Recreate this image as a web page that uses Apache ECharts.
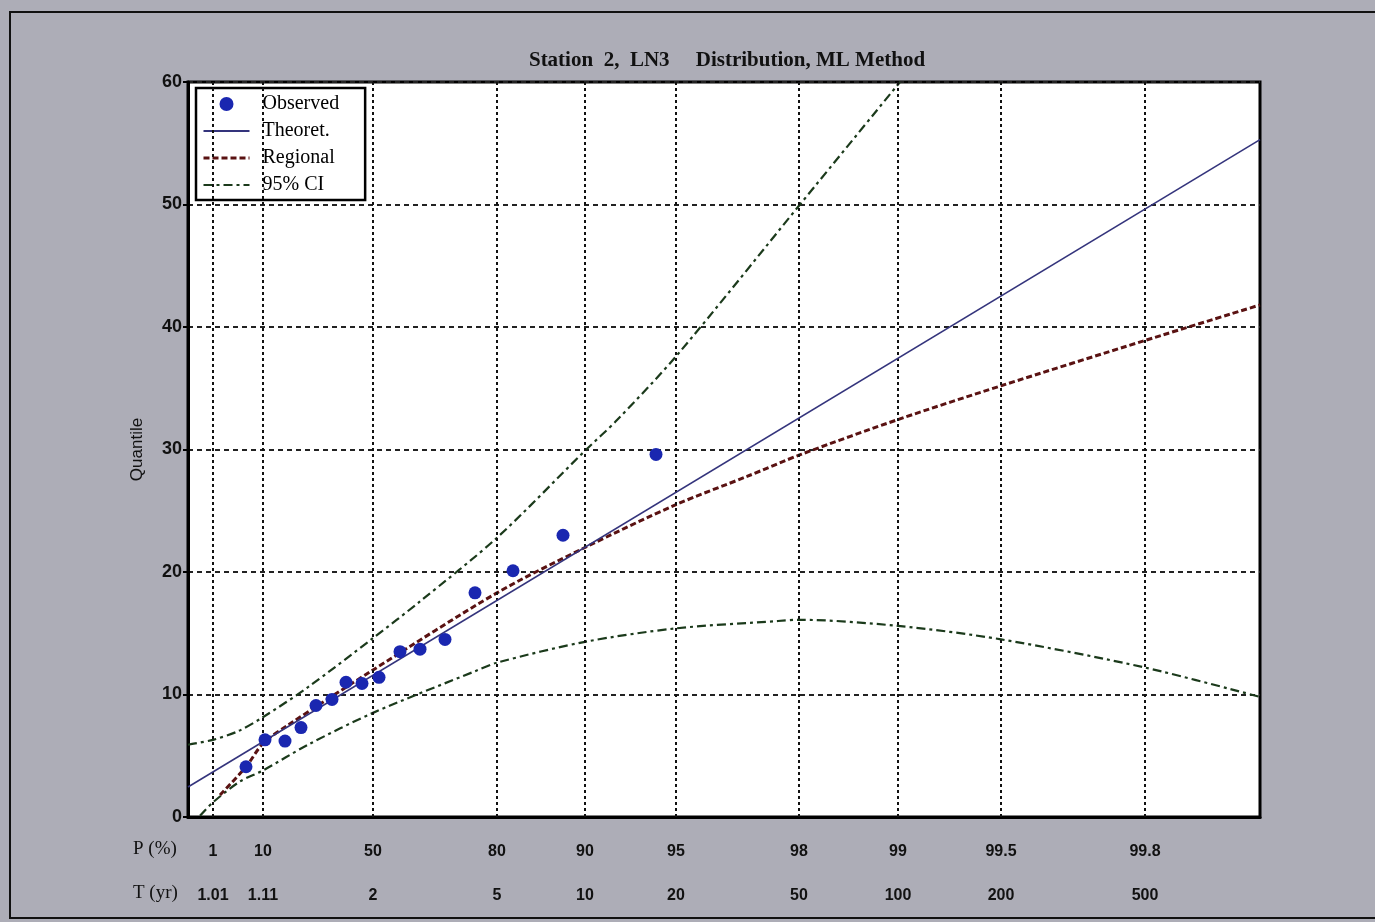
<!DOCTYPE html>
<html>
<head>
<meta charset="utf-8">
<script src="https://cdn.jsdelivr.net/npm/echarts@6/dist/echarts.min.js"></script>
<style>
  html, body { margin: 0; padding: 0; background: #adadb7; }
  #chart { width: 1375px; height: 922px; }
</style>
</head>
<body>
<div id="chart"></div>
<script>
// x values are the distribution's reduced variate (probability-paper scale)
const tickU = [0.25, 0.75, 1.85, 3.09, 3.97, 4.88, 6.11, 7.10, 8.13, 9.57];
const tickP = ['1', '10', '50', '80', '90', '95', '98', '99', '99.5', '99.8'];
const tickT = ['1.01', '1.11', '2', '5', '10', '20', '50', '100', '200', '500'];

const observedU = [0.58, 0.77, 0.97, 1.13, 1.28, 1.44, 1.58, 1.74, 1.91, 2.12, 2.32, 2.57, 2.87, 3.25, 3.75, 4.68];
const observedQ = [4.1, 6.3, 6.2, 7.3, 9.1, 9.6, 11.0, 10.9, 11.4, 13.5, 13.7, 14.5, 18.3, 20.1, 23.0, 29.6];

const theoretU = [0, 10.72];
const theoretQ = [2.45, 55.3];

const regionalU = [0.32, 0.58, 0.75, 1.0, 1.85, 3.09, 3.97, 4.88, 5.59, 6.13, 7.12, 8.13, 9.57, 10.72];
const regionalQ = [1.8, 4.1, 6.0, 7.5, 12.0, 18.3, 22.0, 25.5, 27.8, 29.6, 32.5, 35.2, 38.9, 41.8];

const ciUpperU = [0, 0.25, 0.5, 0.74, 1.2, 1.85, 2.32, 3.09, 3.97, 4.29, 4.89, 6.13, 7.12];
const ciUpperQ = [5.9, 6.3, 7.0, 8.1, 10.6, 14.6, 17.6, 22.8, 29.9, 32.4, 37.7, 50.1, 60.0];

const ciLowerU = [0.12, 0.25, 0.52, 0.75, 1.2, 1.85, 2.87, 3.09, 3.97, 4.88, 5.9, 6.11, 7.10, 8.13, 9.57, 10.72];
const ciLowerQ = [0.1, 1.2, 2.9, 3.8, 5.9, 8.5, 11.9, 12.6, 14.3, 15.4, 16.0, 16.1, 15.6, 14.5, 12.2, 9.8];

const pairs = (xs, ys) => xs.map((x, i) => [x, ys[i]]);
const labelFor = (v) => {
  let best = 0;
  tickU.forEach((u, i) => { if (Math.abs(u - v) < Math.abs(tickU[best] - v)) best = i; });
  return '{p|' + tickP[best] + '}\n{t|' + tickT[best] + '}';
};

const ciColor = '#1b3a1b';
const chart = echarts.init(document.getElementById('chart'), null, { renderer: 'canvas' });
chart.setOption({
  backgroundColor: '#adadb7',
  animation: false,
  title: {
    text: 'Station  2,  LN3     Distribution, ML Method',
    left: 722, top: 45, textAlign: 'center',
    textStyle: { fontFamily: 'Liberation Serif', fontSize: 21, fontWeight: 'bold', color: '#111' }
  },
  grid: {
    left: 188, top: 82, width: 1072, height: 735,
    show: true, backgroundColor: '#ffffff', borderColor: '#000', borderWidth: 3
  },
  legend: {
    orient: 'vertical', left: 196, top: 88,
    backgroundColor: '#ffffff', borderColor: '#000', borderWidth: 2.5,
    padding: [6, 26, 5, 6], itemGap: 7, itemWidth: 46, itemHeight: 14,
    textStyle: { fontFamily: 'Liberation Serif', fontSize: 20, color: '#000', padding: [0, 0, 0, 8] },
    data: [
      { name: 'Observed', icon: 'circle' },
      { name: 'Theoret.', itemStyle: { opacity: 0 } },
      { name: 'Regional', itemStyle: { opacity: 0 }, lineStyle: { width: 3 } },
      { name: '95% CI', itemStyle: { opacity: 0 }, lineStyle: { width: 2 } }
    ]
  },
  xAxis: {
    type: 'value', min: 0, max: 10.72,
    axisLine: { show: true, lineStyle: { color: '#000', width: 3 } },
    axisTick: { show: false },
    splitLine: { show: false },
    axisLabel: {
      customValues: tickU, margin: 13, formatter: labelFor,
      rich: {
        p: { fontFamily: 'Liberation Sans', fontWeight: 'bold', fontSize: 16, color: '#111', lineHeight: 44 },
        t: { fontFamily: 'Liberation Sans', fontWeight: 'bold', fontSize: 16, color: '#111', lineHeight: 44 }
      }
    }
  },
  yAxis: {
    type: 'value', min: 0, max: 60, interval: 10,
    name: 'Quantile', nameLocation: 'middle', nameGap: 42, nameRotate: 90,
    nameTextStyle: { fontFamily: 'Liberation Sans', fontSize: 17, color: '#111' },
    axisLine: { show: true, lineStyle: { color: '#000', width: 3 } },
    axisTick: { show: true, inside: false, length: 5, lineStyle: { color: '#000', width: 2 } },
    axisLabel: { margin: 6, fontFamily: 'Liberation Sans', fontWeight: 'bold', fontSize: 18, color: '#111' },
    splitLine: { show: true, lineStyle: { color: '#222', width: 2, type: [5, 4] } }
  },
  series: [
    {
      name: 'grid', type: 'line', data: [], z: 1, silent: true, symbol: 'none',
      markLine: {
        silent: true, symbol: 'none', label: { show: false },
        lineStyle: { color: '#111', width: 2, type: [3, 3] },
        data: tickU.map(u => ({ xAxis: u }))
      }
    },
    {
      name: '95% CI', type: 'line', data: pairs(ciUpperU, ciUpperQ), smooth: 0.3,
      symbol: 'none', z: 3, color: ciColor,
      lineStyle: { color: ciColor, width: 2.2, type: [9, 4, 3, 4] }
    },
    {
      name: '95% CI', type: 'line', data: pairs(ciLowerU, ciLowerQ), smooth: 0.3,
      symbol: 'none', z: 3, color: ciColor,
      lineStyle: { color: ciColor, width: 2.2, type: [9, 4, 3, 4] }
    },
    {
      name: 'Regional', type: 'line', data: pairs(regionalU, regionalQ), smooth: 0.3,
      symbol: 'none', z: 4, color: '#6a1414',
      lineStyle: { color: '#5a1212', width: 3, type: [6, 3] }
    },
    {
      name: 'Theoret.', type: 'line', data: pairs(theoretU, theoretQ),
      symbol: 'none', z: 5, color: '#34347c',
      lineStyle: { color: '#34347c', width: 1.6 }
    },
    {
      name: 'Observed', type: 'scatter', data: pairs(observedU, observedQ),
      symbol: 'circle', symbolSize: 13, z: 6,
      itemStyle: { color: '#1a27b0', opacity: 1 }
    }
  ],
  graphic: [
    { type: 'rect', shape: { x: 10, y: 12, width: 1380, height: 906 }, style: { fill: 'none', stroke: '#111', lineWidth: 2 }, silent: true },
    { type: 'text', left: 133, top: 840, style: { text: 'P (%)', font: '19px "Liberation Serif"', fill: '#111' } },
    { type: 'text', left: 133, top: 884, style: { text: 'T (yr)', font: '19px "Liberation Serif"', fill: '#111' } }
  ]
});
</script>
</body>
</html>
